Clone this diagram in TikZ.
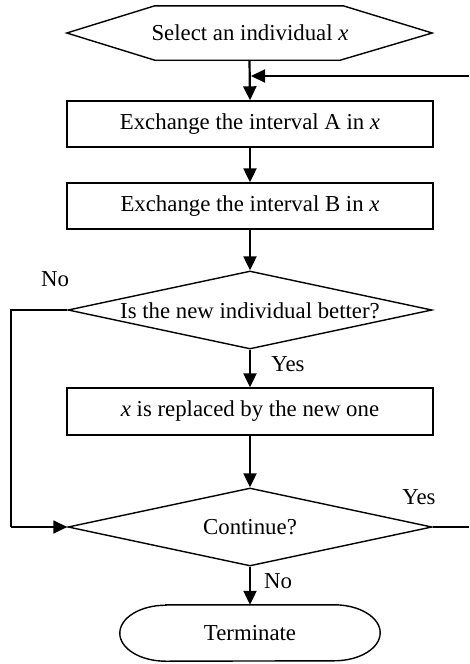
\documentclass[tikz,border=0pt]{standalone}
\usepackage{fontspec}
\setmainfont{Liberation Serif}
\usetikzlibrary{arrows.meta,shapes.geometric}

\begin{document}
\begin{tikzpicture}[x=1pt,y=-1pt,
  every node/.style={font=\fontsize{22.8}{27}\selectfont, inner sep=0pt},
  frame/.style={draw, line width=1.4pt},
  procbox/.style={frame, rectangle, minimum width=366pt, minimum height=46pt},
  decision/.style={frame, diamond, minimum width=364pt, minimum height=78pt},
  slot/.style={rectangle, inner sep=0pt},
  flow/.style={line width=2.2pt, -{Triangle[length=14pt,width=13pt]}},
  wire/.style={line width=1.6pt},
  tag/.style={anchor=center}
]
\useasboundingbox (0,0) rectangle (469,664);

% start: elongated hexagon
\node[slot, minimum width=365pt, minimum height=54pt] (hex) at (249.5,33) {};
\draw[line width=1.4pt] (hex.west) -- ([xshift=88pt]hex.north west) -- ([xshift=-89pt]hex.north east)
  -- (hex.east) -- ([xshift=-92pt]hex.south east) -- ([xshift=88pt]hex.south west) -- cycle;
\node (hextxt) at (250,33) {Select an individual \textit{x}};

% processing steps
\node[procbox] (b1) at (250,124) {Exchange the interval A in \textit{x}};
\node[procbox] (b2) at (250,206) {Exchange the interval B in \textit{x}};

\node[decision] (d1) at (250,310) {};
\node (d1txt) at (250,311) {Is the new individual better?};

\node[procbox, minimum height=47pt] (b3) at (250,411.5) {\textit{x} is replaced by the new one};

\node[decision] (d2) at (250,527) {};
\node (d2txt) at (250,527) {Continue?};

% terminal with elliptic ends
\node[slot, minimum width=260pt, minimum height=56pt] (ter) at (250,633) {};
\draw[line width=1.4pt] ([xshift=46pt]ter.north west) -- ([xshift=-46pt]ter.north east)
  arc[start angle=-90, end angle=90, x radius=46, y radius=28]
  -- ([xshift=46pt]ter.south west)
  arc[start angle=90, end angle=270, x radius=46, y radius=28] -- cycle;
\node (tertxt) at (250,633) {Terminate};

% main flow
\draw[flow] (hex.south) -- (b1.north);
\draw[flow] (b1.south) -- (b2.north);
\draw[flow] (b2.south) -- (d1.north);
\draw[flow] (d1.south) -- (b3.north);
\draw[flow] (b3.south) -- (d2.north);
\draw[flow] (d2.south) -- (ter.north);

% loop back from "Continue? Yes"
\coordinate (backin) at (469,76);
\coordinate (join) at (251,76);
\draw[flow] (backin) -- (join);
\coordinate (yesout) at (469,527);
\draw[wire] (d2.east) -- (yesout);

% "No" branch bypassing the replacement
\coordinate (nl1) at (11,310);
\coordinate (nl2) at (11,527);
\draw[wire] (d1.west) -- (nl1) -- (nl2);
\draw[flow, line width=1.6pt] (nl2) -- (d2.west);

% branch labels
\node[tag] (no1) at (55,279) {No};
\node[tag] (yes1) at (288,364) {Yes};
\node[tag] (yes2) at (419,497) {Yes};
\node[tag] (no2) at (278,581) {No};
\end{tikzpicture}
\end{document}
